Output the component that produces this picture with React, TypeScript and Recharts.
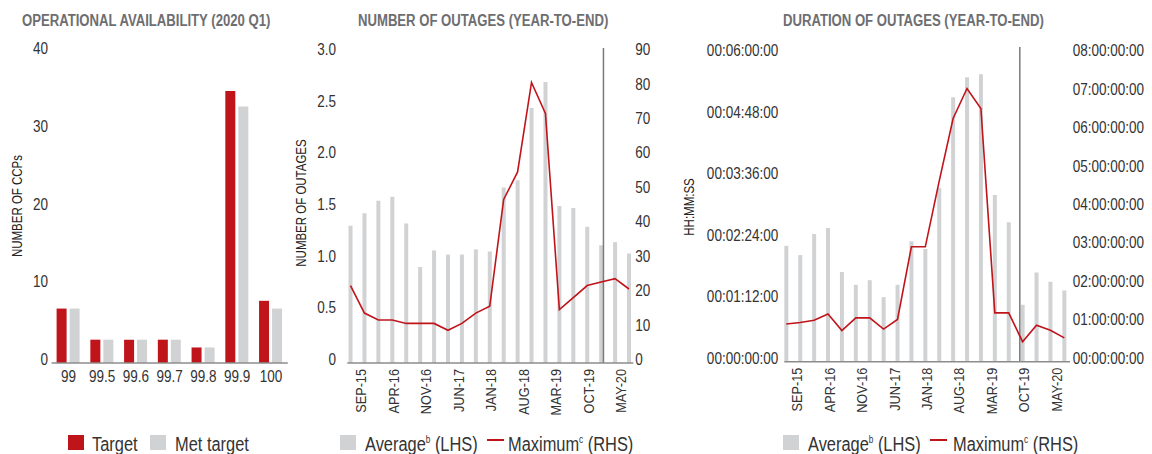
import React from 'react'
import { BarChart, ComposedChart, Bar, Line, XAxis, YAxis, ReferenceLine } from 'recharts'

// no narrow font installed, so Liberation Sans is squeezed horizontally
const FONT = "'Liberation Sans', Arial, sans-serif"
const SQ = 0.82
const RED = '#c0141b'
const GREY = '#d1d2d4'
const AXIS = '#8c8c8c'
const TICK = '#333333'
const TITLE = '#6d6e71'

// panel 1: operational availability
const availCategories = ['99', '99.5', '99.6', '99.7', '99.8', '99.9', '100']
const availTarget = [7, 3, 3, 3, 2, 35, 8]
const availMet = [7, 3, 3, 3, 2, 33, 7]
const availTicks = [0, 10, 20, 30, 40]

// quarterly periods shared by panels 2 and 3
const periods = [
  'JUN-15', 'SEP-15', 'DEC-15', 'MAR-16', 'JUN-16', 'SEP-16', 'DEC-16', 'MAR-17', 'JUN-17', 'SEP-17', 'DEC-17',
  'MAR-18', 'JUN-18', 'SEP-18', 'DEC-18', 'MAR-19', 'JUN-19', 'SEP-19', 'DEC-19', 'MAR-20', 'JUN-20',
]
const dateTicks = ['SEP-15', 'APR-16', 'NOV-16', 'JUN-17', 'JAN-18', 'AUG-18', 'MAR-19', 'OCT-19', 'MAY-20']

// panel 2: number of outages
const outageAvg = [1.33, 1.45, 1.57, 1.61, 1.35, 0.93, 1.09, 1.05, 1.05, 1.1, 1.08, 1.7, 1.77, 2.47, 2.72, 1.52, 1.5, 1.32, 1.14, 1.17, 1.06]
const outageMax = [22.5, 14.5, 12.5, 12.5, 11.5, 11.5, 11.5, 9.5, 11.5, 14.5, 16.5, 47.5, 55.5, 81.5, 72.5, 15.5, 19, 22.5, 23.5, 24.5, 21.5]
const outageLeftTicks = [0, 0.5, 1, 1.5, 2, 2.5, 3]
const outageRightTicks = [0, 10, 20, 30, 40, 50, 60, 70, 80, 90]
const outageMarker = 'DEC-19'

// panel 3: duration of outages (avg in hours, max in days)
const durationAvgHours = [2.26, 2.08, 2.49, 2.61, 1.75, 1.5, 1.59, 1.26, 1.5, 2.35, 2.2, 3.39, 5.16, 5.55, 5.61, 3.25, 2.72, 1.11, 1.74, 1.56, 1.39]
const durationMaxDays = [0.98, 1.02, 1.08, 1.24, 0.81, 1.14, 1.14, 0.85, 1.1, 2.99, 2.99, 4.7, 6.33, 7.11, 6.59, 1.27, 1.27, 0.52, 0.95, 0.82, 0.62]
const durationLeftTicks = [0, 1.2, 2.4, 3.6, 4.8, 6]
const durationRightTicks = [0, 1, 2, 3, 4, 5, 6, 7, 8]
const durationMarker = 'AUG-19'

const MONTHS = ['JAN', 'FEB', 'MAR', 'APR', 'MAY', 'JUN', 'JUL', 'AUG', 'SEP', 'OCT', 'NOV', 'DEC']
// months since Jan 2015
const monthIndex = (label: string) => {
  const [m, y] = label.split('-')
  return (Number(y) - 15) * 12 + MONTHS.indexOf(m)
}
const tickName = (v: number) => dateTicks.find((t) => monthIndex(t) === v) ?? ''

const pad = (n: number) => String(n).padStart(2, '0')
const fmtHours = (h: number) => {
  const mins = Math.round(h * 60)
  return `00:${pad(Math.floor(mins / 60))}:${pad(mins % 60)}:00`
}
const fmtDays = (d: number) => `${pad(d)}:00:00:00`

const availData = availCategories.map((c, i) => ({ c, target: availTarget[i], met: availMet[i] }))
const outageData = periods.map((p, i) => ({ m: monthIndex(p), avg: outageAvg[i], max: outageMax[i] }))
const durationData = periods.map((p, i) => ({ m: monthIndex(p), avg: durationAvgHours[i], max: durationMaxDays[i] }))

const makeYTick = (anchor: 'start' | 'end', fmt: (v: number) => string) => (props: any) => {
  const { x, y, payload } = props
  return (
    <text transform={`translate(${x},${y}) scale(${SQ},1)`} dy={2} textAnchor={anchor} fontSize={16.5} fill={TICK} fontFamily={FONT}>
      {fmt(payload.value)}
    </text>
  )
}

const CatTick = (props: any) => {
  const { x, y, payload } = props
  return (
    <text transform={`translate(${x},${y}) scale(${SQ},1)`} dy={11} textAnchor="middle" fontSize={16.5} fill={TICK} fontFamily={FONT}>
      {payload.value}
    </text>
  )
}

const DateTick = (props: any) => {
  const { x, y, payload } = props
  return (
    <text transform={`translate(${x},${y}) rotate(-90) scale(${SQ},1)`} dy={2} textAnchor="end" fontSize={15.5} fill={TICK} fontFamily={FONT}>
      {tickName(payload.value)}
    </text>
  )
}

const Narrow: React.FC<{ x: number; y: number; size: number; bold?: boolean; color?: string; children: React.ReactNode }> = ({ x, y, size, bold, color, children }) => (
  <div style={{ position: 'absolute', left: x, top: y, fontFamily: FONT, fontSize: size, fontWeight: bold ? 700 : 400, color: color ?? '#333', whiteSpace: 'nowrap', lineHeight: 1, transform: `scaleX(${SQ})`, transformOrigin: 'left top' }}>
    {children}
  </div>
)

const VTitle: React.FC<{ cx: number; cy: number; text: string }> = ({ cx, cy, text }) => (
  <div style={{ position: 'absolute', left: cx, top: cy, transform: `translate(-50%, -50%) rotate(-90deg) scaleX(${SQ})`, fontFamily: FONT, fontSize: 14, lineHeight: 1, color: '#222', whiteSpace: 'nowrap' }}>
    {text}
  </div>
)

const Box: React.FC<{ x: number; color: string }> = ({ x, color }) => (
  <div style={{ position: 'absolute', left: x, top: 435, width: 16, height: 15, background: color }} />
)
const Dash: React.FC<{ x: number; color: string }> = ({ x, color }) => (
  <div style={{ position: 'absolute', left: x, top: 439, width: 17, height: 2, background: color }} />
)
const Sup: React.FC<{ t: string }> = ({ t }) => <span style={{ fontSize: 10, verticalAlign: 8 }}>{t}</span>

const LY = 434
const LS = 20

const App: React.FC = () => {
  return (
    <div style={{ position: 'absolute', left: 0, top: 0, width: 1152, height: 454, background: '#fff', overflow: 'hidden' }}>
      <Narrow x={22} y={13} size={16} bold color={TITLE}>OPERATIONAL AVAILABILITY (2020 Q1)</Narrow>
      <Narrow x={358} y={13} size={16} bold color={TITLE}>NUMBER OF OUTAGES (YEAR-TO-END)</Narrow>
      <Narrow x={783} y={13} size={16} bold color={TITLE}>DURATION OF OUTAGES (YEAR-TO-END)</Narrow>

      <div style={{ position: 'absolute', left: 0, top: 0 }}>
        <BarChart width={300} height={454} data={availData} margin={{ top: 52, right: 12.2, bottom: 61, left: 6.6 }} barSize={10} barGap={3}>
          <XAxis dataKey="c" tickLine={false} axisLine={{ stroke: AXIS, strokeWidth: 1.5 }} height={30} interval={0} tick={CatTick} />
          <YAxis domain={[0, 40]} ticks={availTicks} width={45} axisLine={false} tickLine={false} tickSize={0} tickMargin={3.6}
            tick={makeYTick('end', (v) => String(v))} />
          <Bar dataKey="target" fill={RED} isAnimationActive={false} />
          <Bar dataKey="met" fill={GREY} isAnimationActive={false} />
        </BarChart>
      </div>
      <VTitle cx={17} cy={206} text="NUMBER OF CCPs" />
      <Box x={68} color={RED} />
      <Narrow x={92} y={LY} size={LS}>Target</Narrow>
      <Box x={150} color={GREY} />
      <Narrow x={175} y={LY} size={LS}>Met target</Narrow>

      <div style={{ position: 'absolute', left: 290, top: 0 }}>
        <ComposedChart width={370} height={454} data={outageData} margin={{ top: 48, right: 0.7, bottom: 41, left: 12.3 }}>
          <XAxis dataKey="m" type="number" domain={[4.31, 65.93]} ticks={dateTicks.map(monthIndex)} interval={0}
            tickLine={false} tickMargin={0} axisLine={{ stroke: AXIS, strokeWidth: 1.5 }} height={50} tick={DateTick} />
          <YAxis yAxisId="left" domain={[0, 3.05]} ticks={outageLeftTicks} width={45} axisLine={false} tickLine={false} tickSize={0} tickMargin={11.3}
            tick={makeYTick('end', (v) => (v === 0 ? '0' : v.toFixed(1)))} />
          <YAxis yAxisId="right" orientation="right" domain={[0, 91.5]} ticks={outageRightTicks} width={26} axisLine={false} tickLine={false} tickSize={0} tickMargin={2}
            tick={makeYTick('start', (v) => String(v))} />
          <Bar yAxisId="left" dataKey="avg" fill={GREY} barSize={4} isAnimationActive={false} />
          <ReferenceLine yAxisId="left" x={monthIndex(outageMarker) + 0.5} stroke="#7a7a7a" strokeWidth={1.5} />
          <Line yAxisId="right" dataKey="max" stroke={RED} strokeWidth={1.6} dot={false} isAnimationActive={false} />
        </ComposedChart>
      </div>
      <VTitle cx={301} cy={203} text="NUMBER OF OUTAGES" />
      <Box x={340} color={GREY} />
      <Narrow x={365} y={LY} size={LS}>Average<Sup t="b" /> (LHS)</Narrow>
      <Dash x={487} color={RED} />
      <Narrow x={508} y={LY} size={LS}>Maximum<Sup t="c" /> (RHS)</Narrow>

      <div style={{ position: 'absolute', left: 690, top: 0 }}>
        <ComposedChart width={462} height={454} data={durationData} margin={{ top: 47, right: 2, bottom: 42.3, left: 9.3 }}>
          <XAxis dataKey="m" type="number" domain={[4.57, 66.23]} ticks={dateTicks.map(monthIndex)} interval={0}
            tickLine={false} tickMargin={0} axisLine={{ stroke: AXIS, strokeWidth: 1.5 }} height={50} tick={DateTick} />
          <YAxis yAxisId="left" domain={[0, 6.14]} ticks={durationLeftTicks} width={85} axisLine={false} tickLine={false} tickSize={0} tickMargin={6}
            tick={makeYTick('end', fmtHours)} />
          <YAxis yAxisId="right" orientation="right" domain={[0, 8.19]} ticks={durationRightTicks} width={80} axisLine={false} tickLine={false} tickSize={0} tickMargin={2.7}
            tick={makeYTick('start', fmtDays)} />
          <Bar yAxisId="left" dataKey="avg" fill={GREY} barSize={4} isAnimationActive={false} />
          <ReferenceLine yAxisId="left" x={monthIndex(durationMarker) + 0.4} stroke="#7a7a7a" strokeWidth={1.5} />
          <Line yAxisId="right" dataKey="max" stroke={RED} strokeWidth={1.6} dot={false} isAnimationActive={false} />
        </ComposedChart>
      </div>
      <VTitle cx={689} cy={207} text="HH:MM:SS" />
      <Box x={783} color={GREY} />
      <Narrow x={808} y={LY} size={LS}>Average<Sup t="b" /> (LHS)</Narrow>
      <Dash x={930} color={RED} />
      <Narrow x={953} y={LY} size={LS}>Maximum<Sup t="c" /> (RHS)</Narrow>
    </div>
  )
}

export default App
